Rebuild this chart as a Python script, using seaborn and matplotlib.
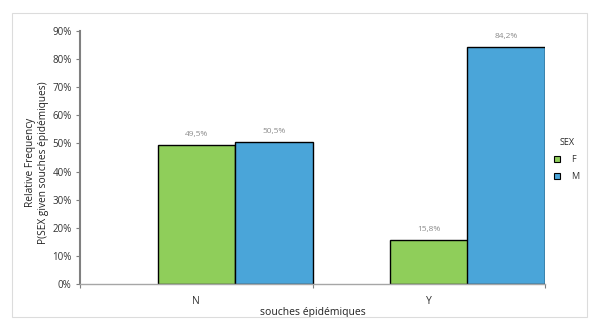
import matplotlib
matplotlib.use("Agg")
import matplotlib.pyplot as plt
import matplotlib.patches as mpatches
from matplotlib.ticker import PercentFormatter, FixedLocator
import seaborn as sns
import pandas as pd

# Relative frequency of SEX within each "souches épidémiques" group
categories = ["N", "Y"]
sex_levels = ["F", "M"]
freq_F = [49.5, 15.8]
freq_M = [50.5, 84.2]

colors = {"F": "#8fce5a", "M": "#4aa5d9"}

df = pd.DataFrame({
    "souches": categories * 2,
    "SEX": ["F"] * len(categories) + ["M"] * len(categories),
    "freq": freq_F + freq_M,
})

sns.set_style("white")
plt.rcParams["font.family"] = ["Open Sans", "DejaVu Sans"]

fig = plt.figure(figsize=(5.89, 3.2), dpi=100)
ax = fig.add_axes([80 / 589, 1 - 284 / 320, (545 - 80) / 589, (284 - 31) / 320])

# an empty leading slot in each group leaves the bars in the right two thirds
slots = ["_", "F", "M"]
palette = {"_": "white", **colors}
sns.barplot(data=df, x="souches", y="freq", hue="SEX", hue_order=slots,
            order=categories, palette=palette, width=1.0, dodge=True,
            saturation=1, edgecolor="black", linewidth=1.0, legend=False, ax=ax)

for cont in ax.containers:
    vals = cont.datavalues
    ax.bar_label(cont, labels=[f"{v:.1f}%".replace(".", ",") for v in vals],
                 padding=5, fontsize=6, color="#8c8c8c")

ax.set_xlim(-0.5, 1.5)
ax.set_ylim(0, 90)
ax.yaxis.set_major_formatter(PercentFormatter(decimals=0))
ax.set_yticks(range(0, 91, 10))

# tick marks at group boundaries, labels at group centres
ax.xaxis.set_major_locator(FixedLocator([-0.5, 0.5, 1.5]))
ax.set_xticklabels([])
ax.xaxis.set_minor_locator(FixedLocator([0, 1]))
ax.set_xticklabels(categories, minor=True)
ax.tick_params(axis="x", which="major", length=3, width=0.8, color="#7f7f7f",
               direction="out", bottom=True)
ax.tick_params(axis="x", which="minor", length=0, pad=9, labelsize=7.5,
               labelcolor="#333333")
ax.tick_params(axis="y", length=3, width=0.8, color="#7f7f7f", direction="out",
               left=True, labelsize=7, labelcolor="#333333", pad=3)

for side in ["top", "right"]:
    ax.spines[side].set_visible(False)
ax.spines["left"].set_color("#808080")
ax.spines["left"].set_linewidth(1.5)
ax.spines["bottom"].set_color("#a6a6a6")
ax.spines["bottom"].set_linewidth(1.0)

ax.set_xlabel("souches épidémiques", fontsize=7.5, color="#222222")
ax.xaxis.set_label_coords(0.5, -(307 - 284) / 253)
ax.set_ylabel("Relative Frequency\nP(SEX given souches épidémiques)",
              fontsize=7.3, color="#222222", linespacing=1.25)
ax.yaxis.set_label_coords(-(80 - 49) / 465, 0.48)

handles = [mpatches.Patch(facecolor=colors[s], edgecolor="black", linewidth=0.8,
                          label=s) for s in sex_levels]
leg = fig.legend(handles=handles, title="SEX", loc="upper left",
                 bbox_to_anchor=(546 / 589, 1 - 130 / 320), frameon=False,
                 fontsize=6.5, title_fontsize=6.5, handlelength=0.7,
                 handleheight=0.7, handletextpad=1.2, labelspacing=0.9)
for t in leg.get_texts():
    t.set_color("#333333")

# outer chart frame
fig.patches.append(mpatches.Rectangle((12 / 589, 3 / 320), 575 / 589, 304 / 320,
                                      transform=fig.transFigure, fill=False,
                                      edgecolor="#dcdcdc", linewidth=0.8))

fig.savefig("out.png", dpi=100)
